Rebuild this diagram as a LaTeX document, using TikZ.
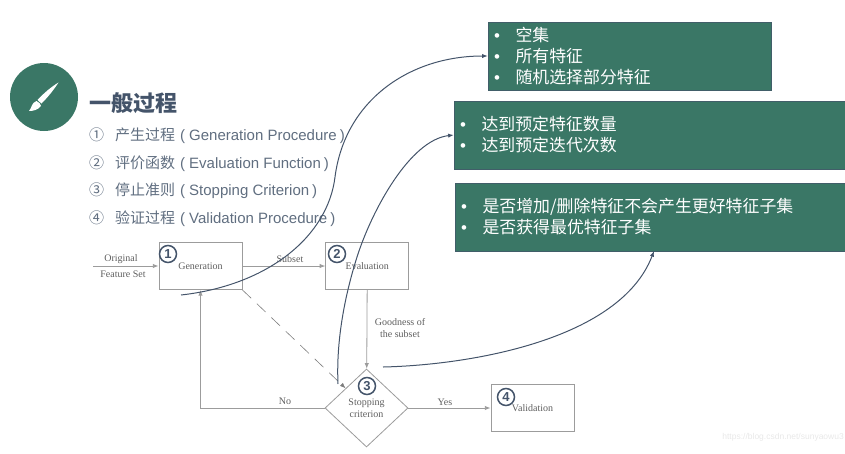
\documentclass[tikz,border=0pt]{standalone}
\usepackage{xcolor}
\usepackage{fontspec}
\setmainfont{Liberation Sans}
\newfontfamily\cjk{Noto Sans CJK SC}
\newfontfamily\flowfont{Liberation Serif}
\usetikzlibrary{arrows.meta,positioning,shapes.geometric}
\definecolor{slideGreen}{HTML}{3A7766}
\definecolor{slideSlate}{HTML}{44546A}
\definecolor{flowGray}{HTML}{9C9C9C}
\definecolor{flowText}{HTML}{5E5E5E}
\newcommand{\bul}[1]{\makebox[21.5pt][l]{\textbullet}{\cjk #1}}
\begin{document}
\begin{tikzpicture}[
  x=1pt,y=-1pt,
  node distance=9pt,
  greenbox/.style={rectangle,fill=slideGreen,draw=slideSlate!70!slideGreen,text=white,align=left,inner xsep=6pt,inner ysep=0pt,font=\fontsize{16.9}{21}\selectfont},
  itemtext/.style={inner sep=0pt,minimum height=18pt,text=slideSlate!85!white,font=\fontsize{15}{17}\selectfont},
  flowbox/.style={rectangle,draw=flowGray,thick,text=flowText,minimum width=83pt,minimum height=47pt,inner sep=0pt,font=\flowfont\fontsize{10}{12}\selectfont},
  decision/.style={diamond,draw=flowGray,thick,text=flowText,minimum width=83pt,minimum height=78pt,inner sep=0pt,align=center,font=\flowfont\fontsize{10}{12}\selectfont},
  flowlabel/.style={inner sep=0pt,text=flowText,align=center,font=\flowfont\fontsize{10}{12}\selectfont},
  badge/.style={circle,draw=slideSlate,line width=1.5pt,text=slideSlate,minimum size=17pt,inner sep=0pt,font=\bfseries\fontsize{13}{13}\selectfont},
  arrow/.style={-{Latex[length=2mm,width=1.5mm]},thick,color=flowGray},
  curvearrow/.style={-{Latex[length=2mm,width=1.5mm]},line width=1pt,color=slideSlate}
]
\useasboundingbox (0,0) rectangle (845,453);

\node[circle,fill=slideGreen,minimum size=68pt,inner sep=0pt] (icon) at (44,97) {};
\fill[white] (58.5,82.5) .. controls (53,91) and (47,98) .. (41.5,103.5) -- (37.5,100) .. controls (44,93) and (51,87) .. (58.5,82.5) -- cycle;
\fill[white] (36.5,101) .. controls (39,102) and (41,104) .. (41,106) .. controls (38,110) and (33,111) .. (29,111) .. controls (32,108) and (31,103) .. (36.5,101) -- cycle;

\node[anchor=west,inner sep=0pt,text=slideSlate,font=\cjk\bfseries\fontsize{22}{26}\selectfont] (title) at (89,103) {一般过程};
\node[itemtext,anchor=west] (item1) at (89,136) {{\cjk ①\hspace{11pt}产生过程}\hspace{5pt}(\hspace{4pt}Generation Procedure\hspace{3pt})};
\node[itemtext,below=of item1.south west,anchor=north west] (item2) {{\cjk ②\hspace{11pt}评价函数}\hspace{5pt}(\hspace{4pt}Evaluation Function\hspace{3pt})};
\node[itemtext,below=of item2.south west,anchor=north west] (item3) {{\cjk ③\hspace{11pt}停止准则}\hspace{5pt}(\hspace{4pt}Stopping Criterion\hspace{3pt})};
\node[itemtext,below=of item3.south west,anchor=north west] (item4) {{\cjk ④\hspace{11pt}验证过程}\hspace{5pt}(\hspace{4pt}Validation Procedure\hspace{3pt})};

\node[greenbox,text width=271pt,minimum height=68pt] (startbox) at (629.5,56) {\bul{空集}\\\bul{所有特征}\\\bul{随机选择部分特征}};
\node[greenbox,text width=379pt,minimum height=68pt] (stopbox) at (649.5,135) {\bul{达到预定特征数量}\\\bul{达到预定迭代次数}};
\node[greenbox,text width=378pt,minimum height=68pt] (critbox) at (650,217) {\bul{是否增加/删除特征不会产生更好特征子集}\\\bul{是否获得最优特征子集}};

\node[flowbox] (genbox) at (200.5,266) {Generation};
\node[flowbox,right=83pt of genbox] (evalbox) {Evaluation};
\node[decision] (critnode) at (366.5,408) {Stopping\\criterion};
\node[flowbox] (valbox) at (532.5,408) {Validation};

\node[badge] (badge1) at (168,254) {1};
\node[badge] (badge2) at (337,254) {2};
\node[badge] (badge3) at (367,386) {3};
\node[badge] (badge4) at (506,397) {4};

\coordinate (feedin) at (93,266);
\node[flowlabel] (origlabel) at (121,259) {Original};
\node[flowlabel] (setlabel) at (123,274) {Feature Set};
\node[flowlabel] (subsetlabel) at (290,259) {Subset};
\node[flowlabel] (goodlabel) at (400,328) {Goodness of\\the subset};
\node[flowlabel] (nolabel) at (285,401) {No};
\node[flowlabel] (yeslabel) at (445,402) {Yes};

\draw[arrow] (feedin) -- (genbox);
\draw[arrow] (genbox) -- (evalbox);
\draw[arrow] (evalbox) -- (critnode);
\draw[arrow] (critnode) -- (valbox);
\draw[arrow] (critnode.west) -| (genbox.south);
\draw[arrow,dash pattern=on 12pt off 8pt,semithick,color=flowGray!80!black] (genbox.south east) -- (critnode.north west);

\coordinate (startfrom) at (181,295);
\coordinate (startmid) at (335,177);
\coordinate (stopfrom) at (338,384);
\coordinate (stopmid) at (357,257);
\coordinate (critfrom) at (383,367);
\coordinate (critto) at (654,251);
\draw[curvearrow] (startfrom) .. controls (270,285) and (328,235) .. (startmid) .. controls (345,100) and (410,56) .. (startbox.west);
\draw[curvearrow] (stopfrom) .. controls (336,340) and (345,295) .. (stopmid) .. controls (372,210) and (410,140) .. (stopbox.west);
\draw[curvearrow] (critfrom) .. controls (470,365) and (620,340) .. (critto);

\node[anchor=east,inner sep=0pt,text=black!9,font=\fontsize{8.5}{10}\selectfont] (watermark) at (844,437) {https://blog.csdn.net/sunyaowu3};
\end{tikzpicture}
\end{document}
